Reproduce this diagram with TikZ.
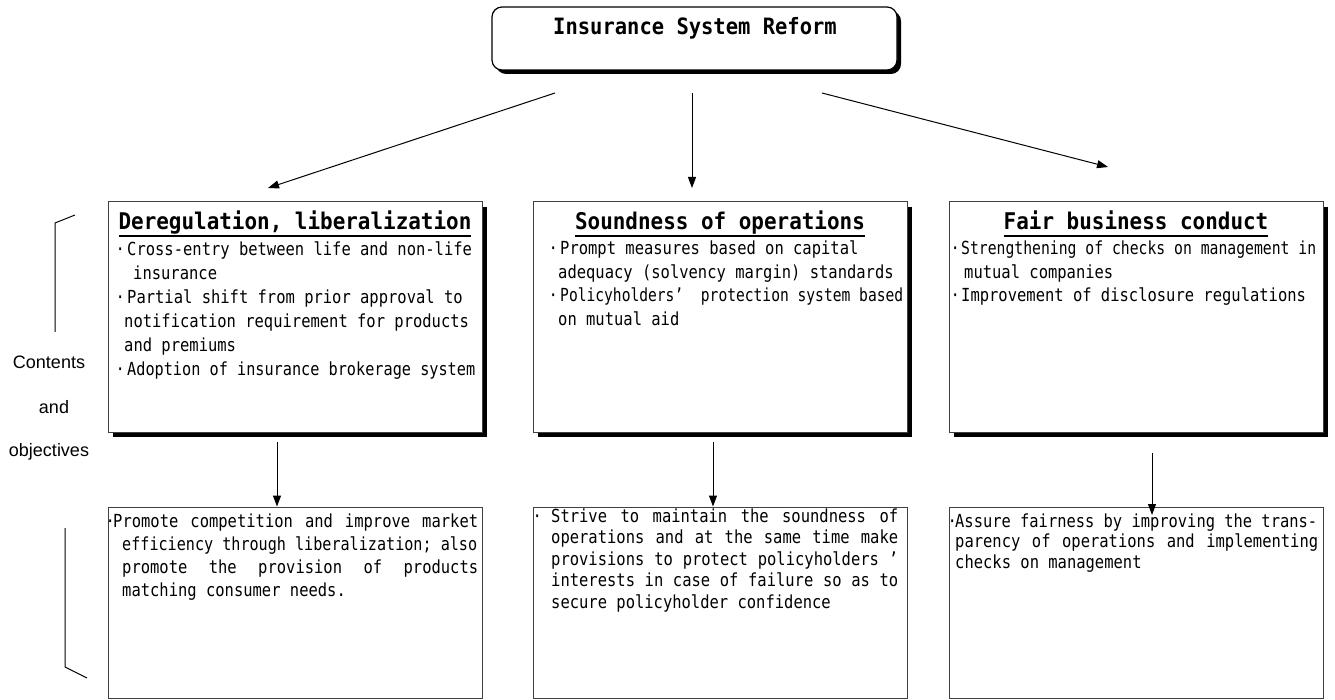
\documentclass[tikz,border=0pt]{standalone}
\usepackage{fontspec}
\usepackage{graphicx}
\setmainfont{Liberation Sans}
\newfontfamily\kmono[FakeStretch=0.86]{DejaVu Sans Mono}
\newfontfamily\khdr[FakeStretch=0.91]{DejaVu Sans Mono}
\usetikzlibrary{arrows.meta,calc}
\newcommand\bul[1]{\makebox[#1]{·}}
\newcommand\hdrline[1]{\setbox0\hbox{#1}\rlap{\rule[-7pt]{\wd0}{1.5pt}}\box0}
\newcommand\fitw[2]{\resizebox{#1}{\height}{#2}}
\begin{document}
\begin{tikzpicture}[x=1pt,y=-1pt,
  boxu/.style={draw=black!75, line width=1pt, fill=white, minimum width=374pt, minimum height=230pt, inner sep=0pt,
    preaction={fill=black, transform canvas={xshift=5pt,yshift=-5pt}}},
  boxl/.style={draw=black!75, line width=1pt, fill=white, minimum width=374pt, minimum height=191pt, inner sep=0pt},
  topbox/.style={draw=black, line width=1.2pt, rounded corners=10pt, fill=white, minimum width=405pt, minimum height=63pt, inner sep=0pt,
    preaction={fill=black, transform canvas={xshift=4pt,yshift=-4pt}}},
  hdrtext/.style={font=\khdr\bfseries\fontsize{23}{26}\selectfont, inner sep=0pt, anchor=base},
  body/.style={inner sep=0pt, anchor=base west, font=\kmono},
  side/.style={font=\fontsize{18}{20}\selectfont, inner sep=0pt},
  arr/.style={-{Triangle[length=11pt,width=8pt]}, line width=1pt},
  brk/.style={line width=1pt}
]
\useasboundingbox (0,0) rectangle (1335,700);

% top box
\node[topbox] (top) at (694.5,38.5) {};
\node[hdrtext, font=\khdr\bfseries\fontsize{22.5}{26}\selectfont] (title) at (695,35) {Insurance System Reform};

% upper boxes
\node[boxu] (b1) at (295,317) {};
\node[boxu] (b2) at (720,317) {};
\node[boxu] (b3) at (1136,317) {};

% lower boxes
\node[boxl] (b4) at (295,602.5) {};
\node[boxl] (b5) at (720,602.5) {};
\node[boxl] (b6) at (1136,602.5) {};

% headers
\node[hdrtext] (h1) at (295,230) {\hdrline{Deregulation, liberalization}};
\node[hdrtext] (h2) at (720,230) {\hdrline{Soundness of operations}};
\node[hdrtext] (h3) at (1136,230) {\hdrline{Fair business conduct}};

% upper texts
\node[body] (t1) at (113,256) {\parbox[t]{365pt}{\fontsize{18}{24}\selectfont
\bul{14pt}Cross-entry between life and non-life\\
\hspace*{20pt}insurance\\
\bul{14pt}Partial shift from prior approval to\\
\hspace*{11pt}notification requirement for products\\
\hspace*{11pt}and premiums\\
\bul{14pt}\fitw{348pt}{Adoption of insurance brokerage system}}};

\node[body] (t2) at (546,255) {\parbox[t]{358pt}{\fontsize{18}{23.5}\selectfont
\bul{14pt}Prompt measures based on capital\\
\hspace*{12pt}adequacy (solvency margin) standards\\
\bul{14pt}\fitw{343pt}{Policyholders’\ \ protection system based}\\
\hspace*{12pt}on mutual aid}};

\node[body] (t3) at (949,255) {\parbox[t]{370pt}{\fontsize{18}{23.3}\selectfont
\bul{12pt}\fitw{355pt}{Strengthening of checks on management in}\\
\hspace*{15pt}mutual companies\\
\bul{12pt}Improvement of disclosure regulations}};

% lower texts
\node[body] (t4) at (107,527) {\parbox[t]{371pt}{\fontsize{18}{23.3}\selectfont
\bul{6pt}Promote\hfill competition\hfill and\hfill improve\hfill market\\
\hspace*{15pt}\fitw{355pt}{efficiency through liberalization; also}\\
\hspace*{15pt}promote\hfill the\hfill provision\hfill of\hfill products\\
\hspace*{15pt}matching consumer needs.}};

\node[body] (t5) at (533,522) {\parbox[t]{365pt}{\fontsize{18}{21.5}\selectfont
\bul{8pt}\hspace*{10pt}Strive\hfill to\hfill maintain\hfill the\hfill soundness\hfill of\\
\hspace*{18pt}operations\hfill and\hfill at\hfill the\hfill same\hfill time\hfill make\\
\hspace*{18pt}provisions\hfill to\hfill protect\hfill policyholders\hfill ’\\
\hspace*{18pt}interests\hfill in\hfill case\hfill of\hfill failure\hfill so\hfill as\hfill to\\
\hspace*{18pt}secure policyholder confidence}};

\node[body] (t6) at (949,527) {\parbox[t]{369pt}{\fontsize{18}{20.5}\selectfont
\bul{6pt}\fitw{362pt}{Assure fairness by improving the trans-}\\
\hspace*{6pt}parency\hfill of\hfill operations\hfill and\hfill implementing\\
\hspace*{6pt}checks on management}};

% side labels
\node[side] (l1) at (49,362) {Contents};
\node[side] (l2) at (54,407) {and};
\node[side] (l3) at (49,452) {objectives};

% bracket
\draw[brk] (75,215) -- (55,223) -- (55,332);
\draw[brk] (65,528) -- (65,667) -- (87,678);

% top arrows
\coordinate (a1s) at (555,93);
\coordinate (a1e) at (268,188);
\coordinate (a2s) at (692,93);
\coordinate (a2e) at (692,188);
\coordinate (a3s) at (822,93);
\coordinate (a3e) at (1108,167);
\draw[arr] (a1s) -- (a1e);
\draw[arr] (a2s) -- (a2e);
\draw[arr] (a3s) -- (a3e);

% vertical arrows
\coordinate (v1) at (277,442);
\coordinate (v2) at (713,442);
\coordinate (v3) at (1152,453);
\coordinate (v3e) at (1152,515);
\draw[arr] (v1) -- (v1 |- b4.north);
\draw[arr] (v2) -- (v2 |- b5.north);
\draw[arr] (v3) -- (v3e);
\end{tikzpicture}
\end{document}
